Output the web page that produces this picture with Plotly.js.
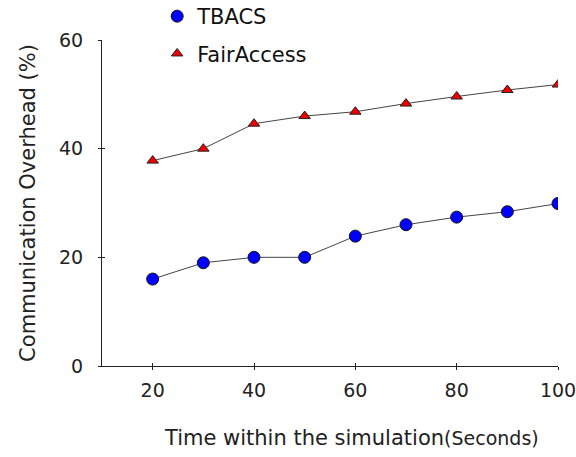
<!DOCTYPE html>
<html>
<head>
<meta charset="utf-8">
<script src="https://cdn.plot.ly/plotly-3.0.1.min.js"></script>
<style>html,body{margin:0;padding:0;background:#fff;}#chart{width:576px;height:457px;}</style>
</head>
<body>
<div id="chart"></div>
<script>
const times = [20, 30, 40, 50, 60, 70, 80, 90, 100];
const tbacs = [16.0, 19.0, 20.0, 20.0, 23.9, 26.0, 27.4, 28.4, 29.9];
const fairAccess = [37.8, 40.0, 44.6, 46.0, 46.8, 48.3, 49.6, 50.8, 51.8];
const xTicks = [20, 40, 60, 80, 100];
const yTicks = [0, 20, 40, 60];

const fontFam = "'DejaVu Sans', sans-serif";

const lineStyle = {color: '#444', width: 1};

const data = [
  {x: times, y: tbacs, type: 'scatter', mode: 'lines', showlegend: false, legendgroup: 'a',
   line: lineStyle, hoverinfo: 'skip'},
  {x: times, y: fairAccess, type: 'scatter', mode: 'lines', showlegend: false, legendgroup: 'b',
   line: lineStyle, hoverinfo: 'skip'},
  {
    x: times, y: tbacs, name: 'TBACS', type: 'scatter', mode: 'markers',
    legendgroup: 'a',
    marker: {symbol: 'circle', size: 12, color: '#0000ff', line: {color: '#111', width: 1}}
  },
  {
    x: times, y: fairAccess, name: 'FairAccess', type: 'scatter', mode: 'markers',
    legendgroup: 'b',
    marker: {symbol: 'triangle-up', size: 10, color: '#ee0000', line: {color: '#222', width: 1}}
  },
  {x: [], y: [], xaxis: 'x2', yaxis: 'y2', showlegend: false, type: 'scatter', mode: 'markers'}
];

const axisCommon = {
  showgrid: false, zeroline: false, linecolor: '#222', linewidth: 1,
  tickcolor: '#222', ticklen: 3, tickwidth: 1
};

const layout = {
  width: 576, height: 457,
  margin: {l: 102, r: 18, t: 40, b: 91, autoexpand: false},
  paper_bgcolor: '#fff', plot_bgcolor: '#fff',
  font: {family: fontFam, color: '#222', size: 19},
  showlegend: true,
  legend: {
    x: 0.121, y: 1.135, xanchor: 'left', yanchor: 'top',
    font: {size: 21, family: fontFam, color: '#111'},
    bgcolor: 'rgba(0,0,0,0)', borderwidth: 0,
    traceorder: 'grouped', tracegroupgap: 7,
    itemwidth: 30
  },
  xaxis: Object.assign({}, axisCommon, {
    range: [10, 100], tickvals: xTicks, ticktext: xTicks.map(String),
    showline: true, ticks: 'outside', ticklabelstandoff: 4,
    ticklabeloverflow: 'allow',
    tickfont: {size: 19}
  }),
  yaxis: Object.assign({}, axisCommon, {
    range: [0, 60], tickvals: yTicks, ticktext: yTicks.map(String),
    showline: true, ticks: 'outside', ticklabelstandoff: 11,
    tickfont: {size: 19},
    title: {text: 'Communication Overhead (%)', font: {size: 21}, standoff: 17}
  }),
  xaxis2: Object.assign({}, axisCommon, {
    range: [10, 100], tickvals: xTicks, overlaying: 'x', anchor: 'y2',
    showline: false, ticks: 'inside', showticklabels: false
  }),
  yaxis2: Object.assign({}, axisCommon, {
    range: [0, 60], tickvals: yTicks, overlaying: 'y', anchor: 'x2',
    showline: false, ticks: 'inside', showticklabels: false
  }),
  annotations: [
    {
      xref: 'paper', yref: 'paper', x: 0.547, y: -0.22, xanchor: 'center', yanchor: 'middle',
      showarrow: false,
      text: "Time within the simulation<span style='font-size:19px'>(Seconds)</span>",
      font: {size: 21, family: fontFam, color: '#222'}
    }
  ]
};

Plotly.newPlot('chart', data, layout, {displayModeBar: false, staticPlot: true});
</script>
</body>
</html>
